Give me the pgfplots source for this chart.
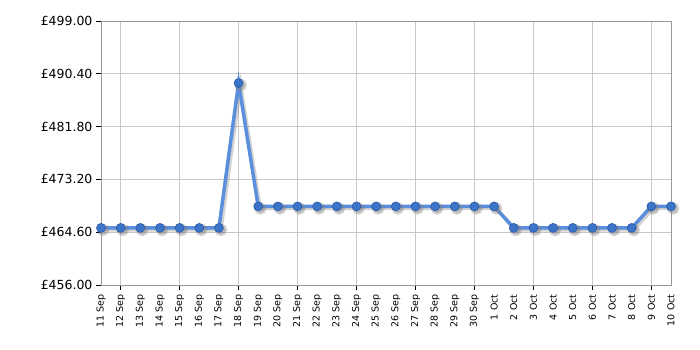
\documentclass[border=0pt]{standalone}
\usepackage{fontspec}
\setmainfont{DejaVu Sans}
\usepackage{pgfplots}
\pgfplotsset{compat=1.18}
\definecolor{linec}{HTML}{5B8EDC}
\definecolor{markc}{HTML}{3B74C8}
\definecolor{marke}{HTML}{2A5AA6}
\definecolor{gridc}{HTML}{C8C8C8}
\definecolor{framec}{HTML}{999999}
\begin{document}
\begin{tikzpicture}[x=1pt,y=1pt]
\begin{axis}[
  scale only axis, width=570pt, height=264pt,
  xmin=0, xmax=29, ymin=456, ymax=499,
  axis line style={framec},
  xtick pos=bottom, ytick pos=left,
  ytick={456,464.6,473.2,481.8,490.4,499},
  yticklabel style={font=\fontsize{12.5}{14}\selectfont},
  yticklabel={£\pgfmathprintnumber[fixed,precision=2,fixed zerofill,assume math mode=true]{\tick}},
  ymajorgrids, xmajorgrids, grid style={gridc, line width=0.8pt},
  tick align=outside, major tick length=5pt,
  tick style={black, line width=0.8pt},
  xtick={1,4,7,10,13,16,19,22,25,28},
  xticklabels={},
  extra x ticks={0,...,29},
  extra x tick labels={11 Sep,12 Sep,13 Sep,14 Sep,15 Sep,16 Sep,17 Sep,18 Sep,19 Sep,20 Sep,21 Sep,22 Sep,23 Sep,24 Sep,25 Sep,26 Sep,27 Sep,28 Sep,29 Sep,30 Sep,1 Oct,2 Oct,3 Oct,4 Oct,5 Oct,6 Oct,7 Oct,8 Oct,9 Oct,10 Oct},
  extra x tick style={xmajorgrids=false, major tick length=0pt,
    xticklabel style={font=\fontsize{9.5}{10}\selectfont, rotate=90, anchor=east, xshift=-6pt}},
  clip=false,
]
\addplot[draw=black!50, opacity=0.35, line width=3.5pt, mark=*, mark size=4.5pt, mark options={fill=black!50, draw=none}, shift={(2pt,-2pt)}] coordinates {
(0,465.3)(1,465.3)(2,465.3)(3,465.3)(4,465.3)(5,465.3)(6,465.3)(7,488.9)(8,468.8)(9,468.8)(10,468.8)(11,468.8)(12,468.8)(13,468.8)(14,468.8)(15,468.8)(16,468.8)(17,468.8)(18,468.8)(19,468.8)(20,468.8)(21,465.3)(22,465.3)(23,465.3)(24,465.3)(25,465.3)(26,465.3)(27,465.3)(28,468.8)(29,468.8)};
\addplot[draw=linec, line width=3.5pt, mark=*, mark size=4.5pt, mark options={fill=markc, draw=marke, line width=0.6pt}] coordinates {
(0,465.3)(1,465.3)(2,465.3)(3,465.3)(4,465.3)(5,465.3)(6,465.3)(7,488.9)(8,468.8)(9,468.8)(10,468.8)(11,468.8)(12,468.8)(13,468.8)(14,468.8)(15,468.8)(16,468.8)(17,468.8)(18,468.8)(19,468.8)(20,468.8)(21,465.3)(22,465.3)(23,465.3)(24,465.3)(25,465.3)(26,465.3)(27,465.3)(28,468.8)(29,468.8)};
\end{axis}
\pgfresetboundingbox
\path (current axis.south west) ++(-101pt,-65pt) coordinate (bl);
\path (current axis.north east) ++(29pt,21pt) coordinate (tr);
\path[use as bounding box] (bl) rectangle (tr);
\end{tikzpicture}
\end{document}
